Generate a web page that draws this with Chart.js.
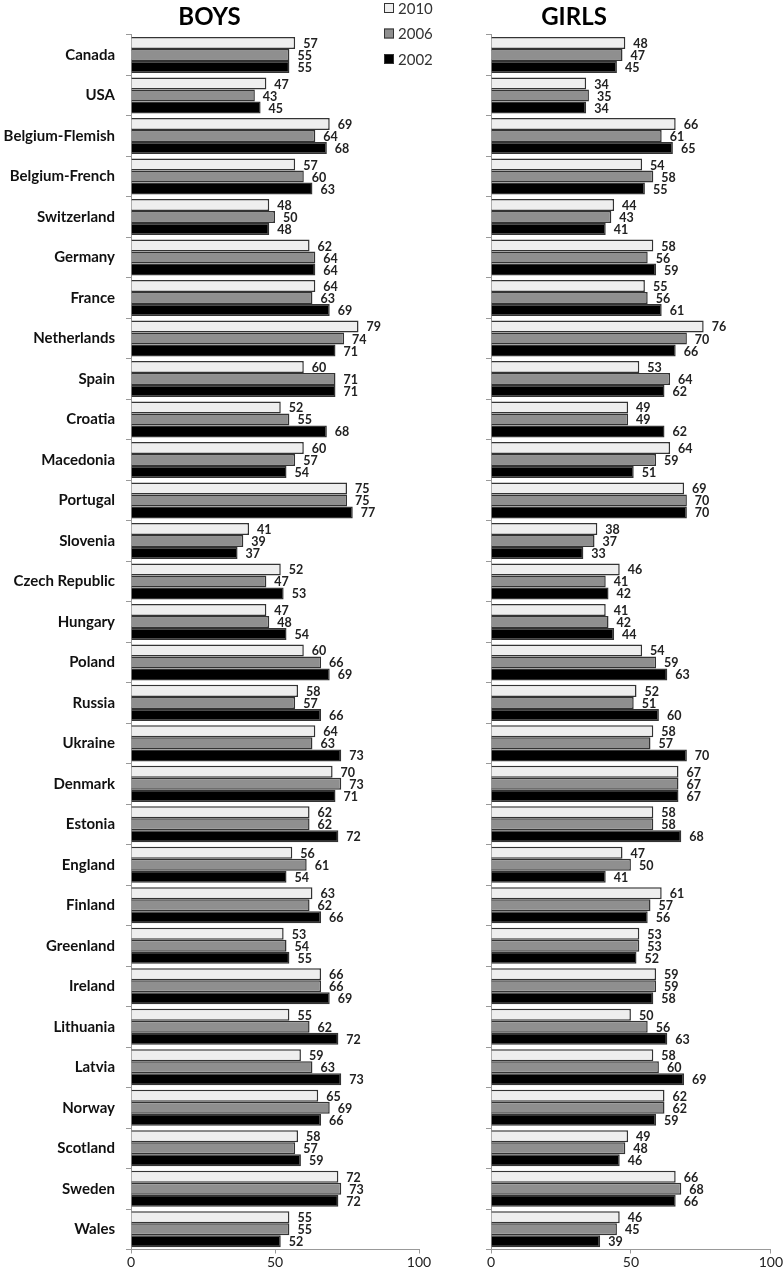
<!DOCTYPE html>
<html>
<head>
<meta charset="utf-8">
<script src="https://cdn.jsdelivr.net/npm/chart.js@4.4.1/dist/chart.umd.min.js"></script>
<style>
  html, body { margin: 0; padding: 0; background: #fff; }
  #wrap { position: relative; width: 784px; height: 1275px; }
  #boysBox { position: absolute; left: 0; top: 0; width: 466px; height: 1275px; }
  #girlsBox { position: absolute; left: 376px; top: 0; width: 408px; height: 1275px; }
</style>
</head>
<body>
<div id="wrap">
  <div id="girlsBox"><canvas id="girlsChart"></canvas></div>
  <div id="boysBox"><canvas id="boysChart"></canvas></div>
</div>
<script>
const countries = [
  'Canada', 'USA', 'Belgium-Flemish', 'Belgium-French', 'Switzerland',
  'Germany', 'France', 'Netherlands', 'Spain', 'Croatia', 'Macedonia',
  'Portugal', 'Slovenia', 'Czech Republic', 'Hungary', 'Poland', 'Russia',
  'Ukraine', 'Denmark', 'Estonia', 'England', 'Finland', 'Greenland',
  'Ireland', 'Lithuania', 'Latvia', 'Norway', 'Scotland', 'Sweden', 'Wales'
];
const years = ['2010', '2006', '2002'];
const xTicks = [0, 50, 100];

const boys2010 = [57, 47, 69, 57, 48, 62, 64, 79, 60, 52, 60, 75, 41, 52, 47, 60, 58, 64, 70, 62, 56, 63, 53, 66, 55, 59, 65, 58, 72, 55];
const boys2006 = [55, 43, 64, 60, 50, 64, 63, 74, 71, 55, 57, 75, 39, 47, 48, 66, 57, 63, 73, 62, 61, 62, 54, 66, 62, 63, 69, 57, 73, 55];
const boys2002 = [55, 45, 68, 63, 48, 64, 69, 71, 71, 68, 54, 77, 37, 53, 54, 69, 66, 73, 71, 72, 54, 66, 55, 69, 72, 73, 66, 59, 72, 52];

const girls2010 = [48, 34, 66, 54, 44, 58, 55, 76, 53, 49, 64, 69, 38, 46, 41, 54, 52, 58, 67, 58, 47, 61, 53, 59, 50, 58, 62, 49, 66, 46];
const girls2006 = [47, 35, 61, 58, 43, 56, 56, 70, 64, 49, 59, 70, 37, 41, 42, 59, 51, 57, 67, 58, 50, 57, 53, 59, 56, 60, 62, 48, 68, 45];
const girls2002 = [45, 34, 65, 55, 41, 59, 61, 66, 62, 62, 51, 70, 33, 42, 44, 63, 60, 70, 67, 68, 41, 56, 52, 58, 63, 69, 59, 46, 66, 39];

const fills = ['#eeeeee', '#8f8f8f', '#000000'];
const FONT = 'Lato, "Open Sans", sans-serif';

// value labels to the right of each bar
const valueLabels = {
  id: 'valueLabels',
  afterDatasetsDraw(chart) {
    const ctx = chart.ctx;
    ctx.save();
    ctx.font = 'bold 12.5px ' + FONT;
    ctx.fillStyle = '#222';
    ctx.textAlign = 'left';
    ctx.textBaseline = 'middle';
    chart.data.datasets.forEach((ds, i) => {
      chart.getDatasetMeta(i).data.forEach((bar, j) => {
        ctx.fillText(ds.data[j], bar.x + 8, bar.y + 1);
      });
    });
    ctx.restore();
  },
};

// small vertical legend next to the boys chart
const sideLegend = {
  id: 'sideLegend',
  afterDraw(chart, args, opts) {
    if (!opts.show) return;
    const ctx = chart.ctx;
    ctx.save();
    ctx.font = '15px ' + FONT;
    ctx.textBaseline = 'middle';
    chart.data.datasets.forEach((ds, i) => {
      const y = 8 + i * 25.5;
      ctx.fillStyle = ds.backgroundColor;
      ctx.strokeStyle = '#333';
      ctx.lineWidth = 1;
      ctx.fillRect(384, y - 5, 10, 10);
      ctx.strokeRect(384.5, y - 4.5, 9, 9);
      ctx.fillStyle = '#333';
      ctx.fillText(ds.label, 398, y + 1);
    });
    ctx.restore();
  },
};

function makeDatasets(a, b, c) {
  return [a, b, c].map((values, i) => ({
    label: years[i],
    data: values,
    backgroundColor: fills[i],
    borderColor: '#333',
    borderWidth: 1.5,
    categoryPercentage: 0.89,
    barPercentage: 1.0,
  }));
}

function makeChart(canvasId, title, datasets, yWidth, padRight, showLabels, showLegend) {
  return new Chart(document.getElementById(canvasId).getContext('2d'), {
    type: 'bar',
    data: {
      labels: countries,
      datasets: datasets,
    },
    options: {
      indexAxis: 'y',
      responsive: true,
      maintainAspectRatio: false,
      animation: false,
      layout: {
        padding: { left: 0, right: padRight, top: 0, bottom: 0 },
      },
      scales: {
        x: {
          min: 0,
          max: 100,
          afterBuildTicks: (scale) => {
            scale.ticks = xTicks.map((v) => ({ value: v }));
          },
          afterFit: (scale) => {
            scale.height = 25.5;
          },
          grid: {
            drawOnChartArea: false,
            drawTicks: true,
            tickLength: 4,
            color: '#999',
          },
          border: { color: '#999', width: 1 },
          ticks: {
            padding: 1,
            color: '#222',
            font: { family: FONT, size: 14 },
          },
        },
        y: {
          afterFit: (scale) => {
            scale.width = yWidth;
          },
          grid: {
            drawOnChartArea: false,
            drawTicks: true,
            tickLength: 5,
            color: '#999',
          },
          border: { color: '#999', width: 1 },
          ticks: {
            display: showLabels,
            padding: 11,
            autoSkip: false,
            color: '#111',
            font: { family: FONT, size: 15, weight: 'bold' },
          },
        },
      },
      plugins: {
        legend: { display: false },
        tooltip: { enabled: false },
        sideLegend: { show: showLegend },
        title: {
          display: true,
          text: title,
          color: '#000',
          padding: { top: 3, bottom: 3 },
          font: { family: FONT, size: 24, weight: 'bold' },
        },
      },
    },
    plugins: [valueLabels, sideLegend],
  });
}

document.addEventListener('DOMContentLoaded', function () {
  makeChart('boysChart', 'BOYS', makeDatasets(boys2010, boys2006, boys2002), 131, 47, true, true);
  makeChart('girlsChart', 'GIRLS', makeDatasets(girls2010, girls2006, girls2002), 115, 12, false, false);
});
</script>
</body>
</html>
